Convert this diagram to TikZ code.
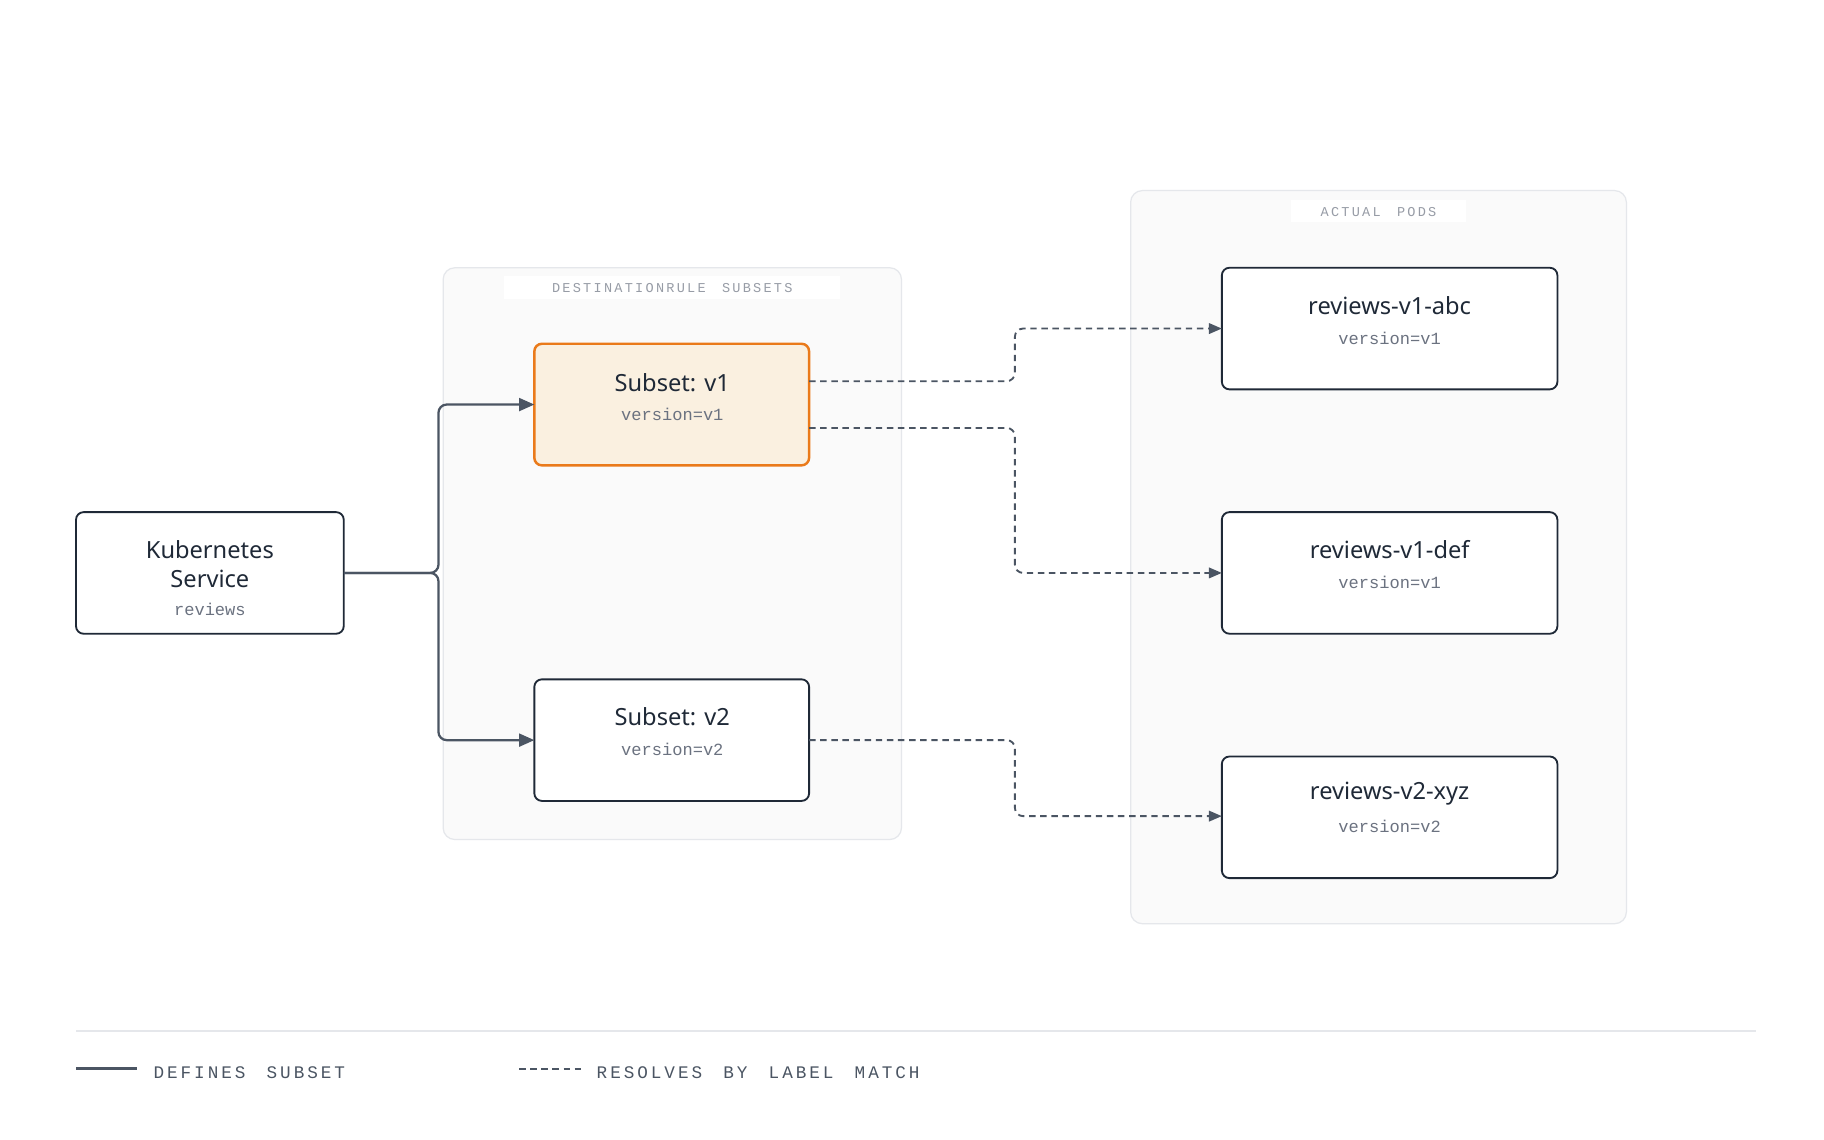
\documentclass[tikz,border=0pt]{standalone}
\usepackage{fontspec}
\setmainfont{Noto Sans}
\setmonofont{Liberation Mono}
\usetikzlibrary{arrows.meta}
\definecolor{ink}{HTML}{1F2937}
\definecolor{wire}{HTML}{4B5563}
\definecolor{soft}{HTML}{6B7280}
\definecolor{pane}{HTML}{FAFAFA}
\definecolor{paneline}{HTML}{E5E7EB}
\definecolor{hot}{HTML}{EA7A1A}
\definecolor{hotfill}{HTML}{FAF0E0}
\tikzset{
  box/.style={draw=ink,line width=0.9pt,rounded corners=1.3mm,fill=white},
  pane/.style={draw=paneline,line width=0.6pt,rounded corners=2mm,fill=pane},
  ttl/.style={font=\bfseries\fontsize{11.5}{13}\selectfont,text=ink,inner sep=0pt},
  ver/.style={font=\ttfamily\fontsize{8.3}{10}\selectfont,text=soft,inner sep=0pt},
  panecap/.style={font=\ttfamily\fontsize{6.6}{8}\selectfont,text=soft!70,inner sep=0pt},
  leg/.style={font=\ttfamily\fontsize{8.6}{10}\selectfont,text=wire,inner sep=0pt,anchor=west},
  def/.style={draw=wire,line width=1.1pt,rounded corners=1.4mm,-{Triangle[length=2.6mm,width=2.2mm]}},
  res/.style={draw=wire,line width=0.9pt,dash pattern=on 1.1mm off 0.8mm,rounded corners=1.4mm,-{Triangle[length=2.2mm,width=1.8mm]}},
}
\begin{document}
\begin{tikzpicture}[x=0.2mm,y=-0.2mm]
\useasboundingbox[fill=white] (0,0) rectangle (1560,975);
% containers
\draw[pane] (379,229) rectangle (771,718);
\fill[white] (431,236) rectangle (718,256);
\node[panecap] (drcap) at (575,246) {D\,E\,S\,T\,I\,N\,A\,T\,I\,O\,N\,R\,U\,L\,E\ \ S\,U\,B\,S\,E\,T\,S};
\draw[pane] (967,163) rectangle (1391,790);
\fill[white] (1104,171) rectangle (1254,190);
\node[panecap] (podcap) at (1179,181) {A\,C\,T\,U\,A\,L\ \ P\,O\,D\,S};
% service
\draw[box] (65,438) rectangle (294,542);
\node[ttl] (svc1) at (179.5,470) {Kubernetes};
\node[ttl] (svc2) at (179.5,495) {Service};
\node[ver] (svc3) at (179.5,521) {reviews};
\coordinate (svc) at (294,490);
% subsets
\draw[box,draw=hot,line width=1.2pt,fill=hotfill] (457,294) rectangle (692,398);
\node[ttl] (s1) at (575,327) {Subset: v1};
\node[ver] at (575,354) {version=v1};
\draw[box] (457,581) rectangle (692,685);
\node[ttl] (s2) at (575,613) {Subset: v2};
\node[ver] at (575,641) {version=v2};
% pods
\foreach \n/\y/\v in {reviews-v1-abc/229/v1,reviews-v1-def/438/v1,reviews-v2-xyz/647/v2}{
  \draw[box] (1045,\y) rectangle (1332,\y+104);
  \node[ttl] at (1188.5,\y+32) {\n};
  \node[ver] at (1188.5,\y+60) {version=\v};
}
\coordinate (s1in) at (457,346);
\coordinate (s2in) at (457,633);
\coordinate (s1a) at (692,326);
\coordinate (s1b) at (692,366);
\coordinate (s2out) at (692,633);
\coordinate (p1) at (1045,281);
\coordinate (p2) at (1045,490);
\coordinate (p3) at (1045,698);
% defines subset
\draw[def] (svc) -- (375,490) -- (375,346) -- (s1in);
\draw[def] (svc) -- (375,490) -- (375,633) -- (s2in);
% resolves by label match
\draw[res] (s1a) -- (868,326) -- (868,281) -- (p1);
\draw[res] (s1b) -- (868,366) -- (868,490) -- (p2);
\draw[res] (s2out) -- (868,633) -- (868,698) -- (p3);
% legend
\draw[paneline,line width=0.8pt] (65,882) -- (1502,882);
\draw[wire,line width=1.4pt] (65,914) -- (117,914);
\node[leg] at (131,917) {D\,E\,F\,I\,N\,E\,S\ \ S\,U\,B\,S\,E\,T};
\draw[wire,line width=1pt,dash pattern=on 1.1mm off 0.8mm] (444,914) -- (497,914);
\node[leg] at (510,917) {R\,E\,S\,O\,L\,V\,E\,S\ \ B\,Y\ \ L\,A\,B\,E\,L\ \ M\,A\,T\,C\,H};
\end{tikzpicture}
\end{document}
